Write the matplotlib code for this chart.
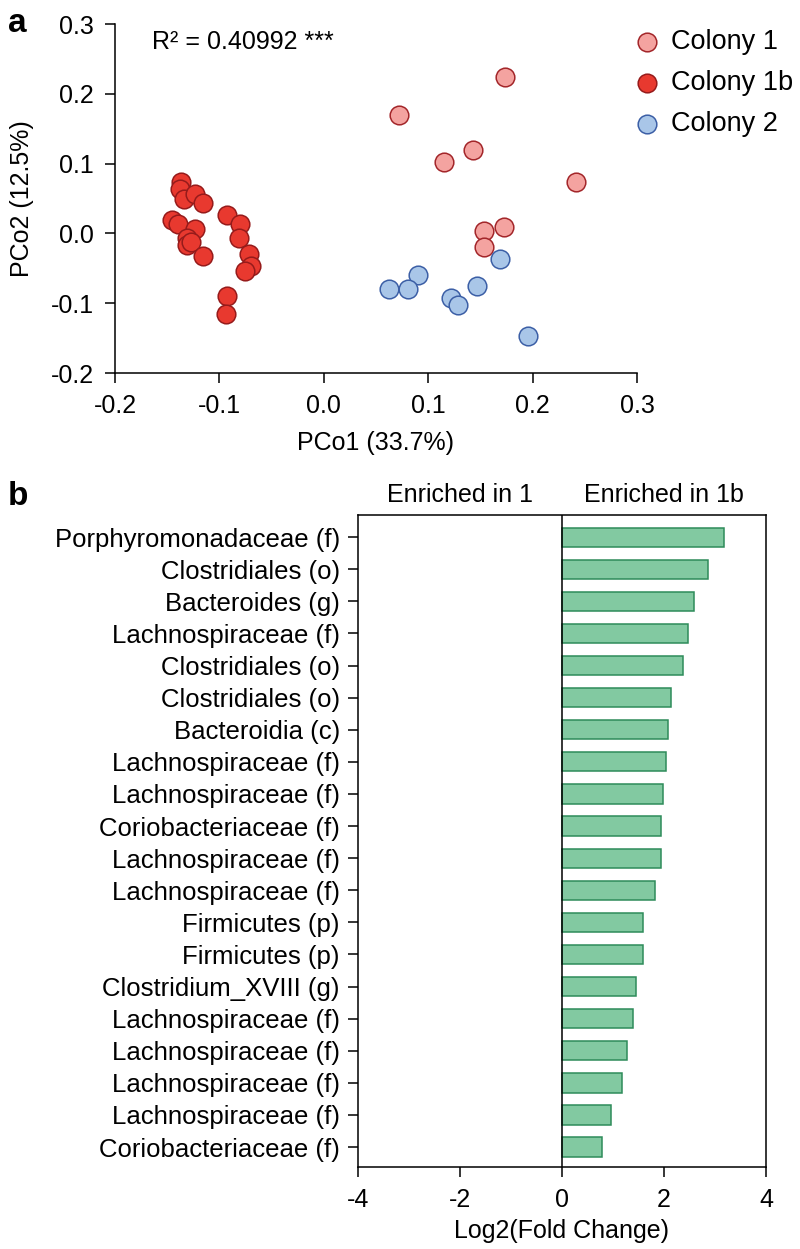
import numpy as np
import matplotlib
matplotlib.use("Agg")
from matplotlib import pyplot as plt

plt.rcParams['font.family'] = ['Liberation Sans', 'DejaVu Sans']
plt.rcParams['axes.unicode_minus'] = False

# panel a: PCoA coordinates
c1_x = [0.174, 0.072, 0.143, 0.115, 0.242, 0.173, 0.153, 0.153]
c1_y = [0.224, 0.169, 0.119, 0.103, 0.073, 0.009, 0.003, -0.020]

c1b_x = [-0.137, -0.138, -0.134, -0.123, -0.116, -0.145, -0.140, -0.123, -0.131, -0.131,
         -0.127, -0.116, -0.093, -0.080, -0.081, -0.072, -0.070, -0.075, -0.093, -0.094]
c1b_y = [0.073, 0.063, 0.050, 0.057, 0.043, 0.019, 0.013, 0.007, -0.006, -0.017,
         -0.013, -0.032, 0.026, 0.013, -0.007, -0.030, -0.046, -0.054, -0.089, -0.116]

c2_x = [0.169, 0.090, 0.081, 0.062, 0.122, 0.129, 0.147, 0.196]
c2_y = [-0.036, -0.060, -0.080, -0.079, -0.093, -0.103, -0.076, -0.147]

# panel b: log2 fold change
taxa = ["Porphyromonadaceae (f)", "Clostridiales (o)", "Bacteroides (g)", "Lachnospiraceae (f)",
        "Clostridiales (o)", "Clostridiales (o)", "Bacteroidia (c)", "Lachnospiraceae (f)",
        "Lachnospiraceae (f)", "Coriobacteriaceae (f)", "Lachnospiraceae (f)", "Lachnospiraceae (f)",
        "Firmicutes (p)", "Firmicutes (p)", "Clostridium_XVIII (g)", "Lachnospiraceae (f)",
        "Lachnospiraceae (f)", "Lachnospiraceae (f)", "Lachnospiraceae (f)", "Coriobacteriaceae (f)"]
lfc = [3.17, 2.86, 2.59, 2.48, 2.37, 2.13, 2.07, 2.03, 1.98, 1.94,
       1.94, 1.83, 1.59, 1.58, 1.45, 1.39, 1.27, 1.17, 0.96, 0.78]

fig = plt.figure(figsize=(8, 12.49), dpi=100)
W, H = 800, 1249

# ---- panel a ----
ax = fig.add_axes([115 / W, 1 - 373 / H, 522 / W, 349 / H])
ms = 180
ax.scatter(c1_x, c1_y, s=ms, c='#F4A3A0', edgecolors='#A3262A', linewidths=1.1, label='Colony 1', zorder=3, clip_on=False)
ax.scatter(c1b_x, c1b_y, s=ms, c='#E8392F', edgecolors='#961B1B', linewidths=1.1, label='Colony 1b', zorder=3, clip_on=False)
ax.scatter(c2_x, c2_y, s=ms, c='#A9C6E8', edgecolors='#3C5FA6', linewidths=1.1, label='Colony 2', zorder=3, clip_on=False)

ax.set_xlim(-0.2, 0.3)
ax.set_ylim(-0.2, 0.3)
ax.set_xticks(np.arange(-0.2, 0.31, 0.1))
ax.set_yticks(np.arange(-0.2, 0.31, 0.1))
ax.xaxis.set_major_formatter(matplotlib.ticker.FormatStrFormatter('%.1f'))
ax.yaxis.set_major_formatter(matplotlib.ticker.FormatStrFormatter('%.1f'))
for s in ['top', 'right']:
    ax.spines[s].set_visible(False)
for s in ['left', 'bottom']:
    ax.spines[s].set_linewidth(1.1)
ax.tick_params(direction='out', length=7, width=1.1, labelsize=18, pad=8)
ax.set_xlabel("PCo1 (33.7%)", fontsize=18)
ax.set_ylabel("PCo2 (12.5%)", fontsize=18)
ax.xaxis.set_label_coords(0.5, -0.165)
ax.yaxis.set_label_coords(-0.155, 0.5)
ax.text(152 / W, 1 - 42 / H, "R² = 0.40992 ***", transform=fig.transFigure,
        fontsize=18, ha='left', va='center')
ax.legend(loc='upper left', bbox_to_anchor=(636 / W, 1 - 29 / H), bbox_transform=fig.transFigure,
          frameon=False, fontsize=19.5, handlelength=0.8, handletextpad=0.5,
          labelspacing=0.55, borderpad=0, borderaxespad=0)

# ---- panel b ----
bx = fig.add_axes([358 / W, 1 - 1167 / H, 408 / W, 652 / H])
pos = np.arange(len(taxa))
bx.barh(pos, lfc, height=0.6, color='#82C9A1', edgecolor='#2E8B5A', linewidth=1.1, zorder=3)
bx.axvline(0, color='black', linewidth=1.1, zorder=4)
bx.set_xlim(-4, 4)
bx.set_ylim(len(taxa) - 1 + 0.62, -0.69)
bx.set_xticks([-4, -2, 0, 2, 4])
bx.set_yticks(pos)
bx.set_yticklabels(taxa)
for s in bx.spines.values():
    s.set_linewidth(1.1)
bx.tick_params(direction='out', length=7, width=1.1, labelsize=18.5, pad=6)
bx.tick_params(axis='x', labelsize=18, pad=8)
bx.set_xlabel("Log2(Fold Change)", fontsize=18)
bx.xaxis.set_label_coords(0.5, -0.08)
bx.text(0.25, 1.012, "Enriched in 1", transform=bx.transAxes, ha='center', va='bottom', fontsize=18)
bx.text(0.75, 1.012, "Enriched in 1b", transform=bx.transAxes, ha='center', va='bottom', fontsize=18)

fig.text(8 / W, 1 - 8 / H, "a", fontsize=24, fontweight='bold', ha='left', va='top')
fig.text(8 / W, 1 - 481 / H, "b", fontsize=24, fontweight='bold', ha='left', va='top')

fig.savefig("out.png", dpi=100)
